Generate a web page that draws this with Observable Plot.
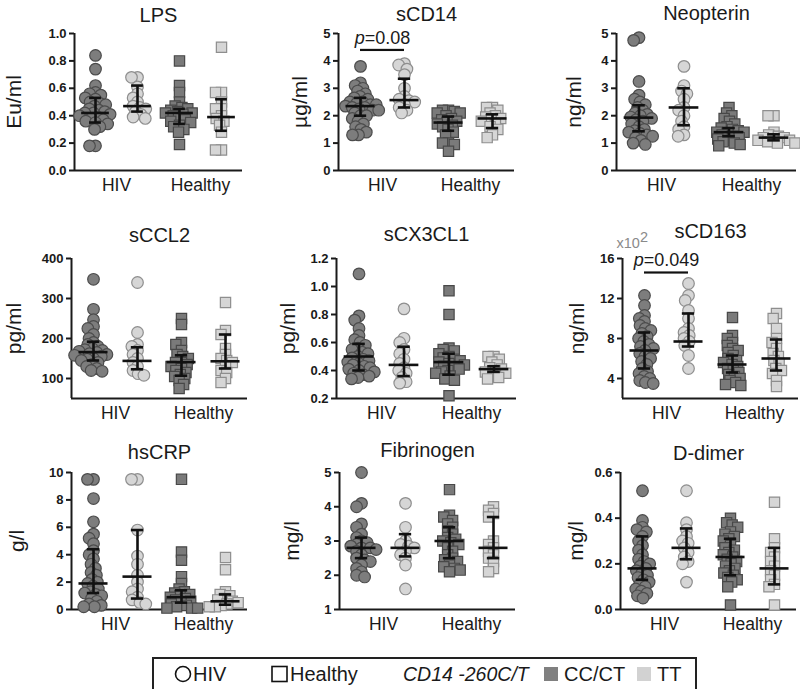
<!DOCTYPE html>
<html><head><meta charset="utf-8">
<script src="https://cdn.jsdelivr.net/npm/d3@7"></script>
<script src="https://cdn.jsdelivr.net/npm/@observablehq/plot@0.6"></script>
<style>
body{margin:0;background:#fff;font-family:"Liberation Sans",Arial,sans-serif;}
#root{position:relative;width:800px;height:689px;overflow:hidden;background:#fff;}
.panel{position:absolute;width:267px;}
.panel svg{display:block;}
</style></head>
<body><div id="root"></div>
<script>
// ---------- categories ----------
const groups = ["HIV CC/CT", "HIV TT", "Healthy CC/CT", "Healthy TT"];
const groupLabels = ["HIV", "Healthy"];
const legendGenotypes = ["CC/CT", "TT"];

// ---------- LPS ----------
const lpsHivCC = [0.84,0.74,0.62,0.57,0.56,0.55,0.53,0.52,0.50,0.49,0.48,0.47,0.45,0.44,0.43,0.42,0.42,0.41,0.40,0.39,0.38,0.37,0.36,0.35,0.34,0.32,0.30,0.18,0.18];
const lpsHivTT = [0.68,0.68,0.61,0.56,0.53,0.50,0.47,0.46,0.45,0.43,0.41,0.39,0.38];
const lpsHealthyCC = [0.80,0.62,0.57,0.50,0.47,0.46,0.45,0.44,0.43,0.42,0.42,0.41,0.40,0.38,0.37,0.36,0.35,0.33,0.32,0.30,0.28,0.19];
const lpsHealthyTT = [0.90,0.57,0.57,0.50,0.45,0.45,0.40,0.38,0.36,0.33,0.28,0.15,0.15];
const lpsMedian = [0.42,0.47,0.42,0.39], lpsQ1 = [0.35,0.43,0.34,0.29], lpsQ3 = [0.53,0.62,0.45,0.52];
const lpsTicks = [0,0.2,0.4,0.6,0.8,1.0];

// ---------- sCD14 ----------
const scd14HivCC = [3.8,3.2,3.1,3.0,2.9,2.8,2.7,2.65,2.6,2.5,2.5,2.45,2.4,2.4,2.35,2.3,2.3,2.25,2.2,2.2,2.1,2.0,2.0,1.9,1.8,1.7,1.6,1.5,1.4,1.3,1.3];
const scd14HivTT = [3.9,3.85,3.7,3.5,3.0,2.7,2.6,2.55,2.5,2.4,2.3,2.2,2.1];
const scd14HealthyCC = [2.2,2.2,2.15,2.1,2.1,2.0,1.9,1.85,1.8,1.75,1.7,1.65,1.6,1.5,1.4,1.3,1.0,1.0,0.95,0.7];
const scd14HealthyTT = [2.3,2.3,2.2,2.1,2.0,1.95,1.9,1.85,1.8,1.7,1.6,1.5,1.3,1.2];
const scd14Median = [2.35,2.57,1.75,1.9], scd14Q1 = [2.0,2.3,1.45,1.55], scd14Q3 = [2.65,3.35,1.97,2.05];
const scd14Ticks = [0,1,2,3,4,5];

// ---------- Neopterin ----------
const neoHivCC = [4.85,4.75,3.25,2.75,2.6,2.5,2.4,2.3,2.2,2.1,2.05,2.0,1.95,1.9,1.85,1.8,1.7,1.6,1.5,1.45,1.4,1.35,1.3,1.25,1.2,1.1,1.0,0.95];
const neoHivTT = [3.8,3.1,2.9,2.8,2.6,2.3,2.2,2.0,1.8,1.6,1.5,1.3,1.25];
const neoHealthyCC = [2.3,2.1,2.0,1.9,1.8,1.7,1.6,1.55,1.5,1.45,1.4,1.4,1.35,1.3,1.25,1.2,1.15,1.1,1.05,1.0,0.95,0.9];
const neoHealthyTT = [2.0,2.0,1.4,1.3,1.25,1.2,1.2,1.15,1.1,1.1,1.05,1.0,1.0];
const neoMedian = [1.93,2.3,1.4,1.2], neoQ1 = [1.43,1.65,1.25,1.1], neoQ3 = [2.38,3.0,1.55,1.32];
const neoTicks = [0,1,2,3,4,5];

// ---------- sCCL2 ----------
const ccl2HivCC = [348,273,247,230,225,210,200,190,185,180,175,172,170,168,165,162,160,158,155,150,148,145,140,135,130,125,120,118];
const ccl2HivTT = [340,215,185,180,170,160,150,140,130,120,112,108];
const ccl2HealthyCC = [250,235,190,185,170,160,155,150,145,140,140,135,130,125,120,115,110,105,100,95,85,75];
const ccl2HealthyTT = [290,220,210,175,160,150,145,140,130,120,115,100,90];
const ccl2Median = [166,144,141,143], ccl2Q1 = [145,123,107,125], ccl2Q3 = [192,178,158,210];
const ccl2Ticks = [100,200,300,400];

// ---------- sCX3CL1 ----------
const cx3HivCC = [1.09,0.79,0.76,0.70,0.65,0.62,0.60,0.58,0.56,0.55,0.53,0.52,0.50,0.49,0.48,0.47,0.46,0.45,0.44,0.43,0.42,0.41,0.40,0.39,0.38,0.37,0.36,0.35,0.34];
const cx3HivTT = [0.84,0.63,0.60,0.55,0.52,0.48,0.45,0.42,0.40,0.38,0.35,0.32,0.31];
const cx3HealthyCC = [0.97,0.80,0.56,0.55,0.54,0.52,0.50,0.49,0.48,0.47,0.46,0.45,0.44,0.43,0.42,0.41,0.40,0.39,0.38,0.36,0.34,0.33,0.22];
const cx3HealthyTT = [0.50,0.50,0.48,0.46,0.44,0.42,0.41,0.40,0.39,0.38,0.36,0.35,0.34];
const cx3Median = [0.50,0.44,0.46,0.41], cx3Q1 = [0.40,0.36,0.37,0.39], cx3Q3 = [0.59,0.57,0.52,0.43];
const cx3Ticks = [0.2,0.4,0.6,0.8,1.0,1.2];

// ---------- sCD163 (x10^2) ----------
const cd163HivCC = [12.3,11.3,10.3,10.0,9.7,9.3,9.0,8.8,8.5,8.2,8.0,7.7,7.4,7.2,7.0,6.8,6.5,6.2,6.0,5.7,5.4,5.0,4.7,4.5,4.2,4.0,3.8,3.6,3.5];
const cd163HivTT = [13.5,12.3,11.8,10.8,10.0,9.0,8.6,8.3,8.0,7.7,7.3,6.3,5.0];
const cd163HealthyCC = [10.1,8.3,8.0,7.6,7.3,7.0,6.8,6.6,6.3,6.0,5.8,5.6,5.4,5.2,5.0,4.8,4.6,4.4,4.2,4.0,3.8,3.6,3.4,3.3];
const cd163HealthyTT = [10.5,10.0,9.0,8.0,7.6,7.0,6.5,6.2,5.8,5.5,5.0,4.8,4.5,3.8,3.2];
const cd163Median = [6.8,7.7,5.4,6.0], cd163Q1 = [5.0,7.2,4.6,4.8], cd163Q3 = [8.6,10.5,6.3,7.9];
const cd163Ticks = [4,8,12,16];

// ---------- hsCRP ----------
const crpHivCC = [9.5,9.5,8.1,6.4,5.5,5.2,4.8,4.3,4.0,3.7,3.3,3.0,2.7,2.5,2.2,2.0,1.9,1.7,1.5,1.3,1.2,1.1,1.0,0.8,0.6,0.4,0.3,0.2,0.2];
const crpHivTT = [9.5,9.5,5.8,3.9,3.3,2.5,2.0,1.5,1.3,0.9,0.7,0.5,0.4];
const crpHealthyCC = [9.5,4.2,3.6,2.4,1.9,1.5,1.3,1.2,1.1,1.0,0.9,0.8,0.7,0.6,0.5,0.4,0.3,0.2,0.1,0.1,0.1];
const crpHealthyTT = [3.8,2.9,1.3,1.1,1.0,0.8,0.7,0.6,0.5,0.4,0.3,0.2,0.2];
const crpMedian = [1.9,2.4,0.9,0.6], crpQ1 = [1.2,0.8,0.5,0.35], crpQ3 = [4.4,5.8,1.4,1.1];
const crpTicks = [0,2,4,6,8,10];

// ---------- Fibrinogen ----------
const fibHivCC = [5.0,4.1,4.0,3.5,3.4,3.2,3.1,3.0,2.95,2.9,2.85,2.8,2.8,2.75,2.7,2.6,2.5,2.45,2.4,2.3,2.2,2.1,2.0,1.95];
const fibHivTT = [4.1,3.4,3.0,2.9,2.85,2.8,2.7,2.6,2.5,2.3,1.6];
const fibHealthyCC = [4.5,3.75,3.7,3.6,3.5,3.4,3.3,3.2,3.1,3.05,3.0,2.95,2.9,2.8,2.7,2.6,2.5,2.45,2.4,2.3,2.25,2.2,2.15,2.1];
const fibHealthyTT = [4.0,3.9,3.8,3.7,3.0,2.9,2.8,2.7,2.6,2.5,2.4,2.2,2.1];
const fibMedian = [2.8,2.8,3.0,2.8], fibQ1 = [2.5,2.55,2.5,2.5], fibQ3 = [3.1,3.2,3.4,3.7];
const fibTicks = [1,2,3,4,5];

// ---------- D-dimer ----------
const ddHivCC = [0.52,0.39,0.36,0.35,0.34,0.32,0.30,0.28,0.26,0.24,0.22,0.21,0.20,0.19,0.18,0.17,0.16,0.15,0.14,0.13,0.12,0.11,0.10,0.09,0.08,0.07,0.06,0.05];
const ddHivTT = [0.52,0.38,0.35,0.32,0.30,0.29,0.27,0.25,0.23,0.21,0.20,0.12];
const ddHealthyCC = [0.40,0.38,0.37,0.36,0.34,0.33,0.32,0.31,0.30,0.28,0.27,0.26,0.25,0.24,0.23,0.22,0.21,0.20,0.19,0.18,0.17,0.16,0.15,0.14,0.13,0.12,0.10,0.02];
const ddHealthyTT = [0.47,0.31,0.27,0.25,0.23,0.21,0.19,0.17,0.15,0.13,0.11,0.10,0.02];
const ddMedian = [0.18,0.27,0.23,0.18], ddQ1 = [0.13,0.22,0.15,0.11], ddQ3 = [0.32,0.355,0.31,0.27];
const ddTicks = [0,0.2,0.4,0.6];

// ---------- annotations ----------
const sigLabels = ["p=0.08", "p=0.049"];
const sigLevels = [4.4, 14.6];
const cd163Multiplier = "x10^2";

// ---------- styles / layout ----------
const groupStyles = [
  {symbol: "circle", fill: "#7d7d7d", stroke: "#4c4c4c"},
  {symbol: "circle", fill: "#d6d6d6", stroke: "#8e8e8e"},
  {symbol: "square", fill: "#7a7a7a", stroke: "#484848"},
  {symbol: "square", fill: "#d6d6d6", stroke: "#8e8e8e"}
];
const rowsLayout = [
  {top: 0, height: 200, mt: 33, mb: 30},
  {top: 215, height: 215, mt: 43, mb: 32},
  {top: 440, height: 200, mt: 32, mb: 31}
];
const colLeft = [0, 266, 533];
const f1 = d3.format(".1f"), f0 = d3.format("d");

const panels = [
  {title:"LPS", unit:"Eu/ml", data:[lpsHivCC,lpsHivTT,lpsHealthyCC,lpsHealthyTT], med:lpsMedian, q1:lpsQ1, q3:lpsQ3, domain:[0,1], ticks:lpsTicks, fmt:f1, row:0, col:0, ml:72, mr:24, labelDx:-60, titleDy:-18},
  {title:"sCD14", unit:"µg/ml", data:[scd14HivCC,scd14HivTT,scd14HealthyCC,scd14HealthyTT], med:scd14Median, q1:scd14Q1, q3:scd14Q3, domain:[0,5], ticks:scd14Ticks, fmt:f0, row:0, col:1, ml:71, mr:18, labelDx:-38, titleDy:-19, sig:0},
  {title:"Neopterin", unit:"ng/ml", data:[neoHivCC,neoHivTT,neoHealthyCC,neoHealthyTT], med:neoMedian, q1:neoQ1, q3:neoQ3, domain:[0,5], ticks:neoTicks, fmt:f0, row:0, col:2, ml:83, mr:4, labelDx:-42, titleDy:-20},
  {title:"sCCL2", unit:"pg/ml", data:[ccl2HivCC,ccl2HivTT,ccl2HealthyCC,ccl2HealthyTT], med:ccl2Median, q1:ccl2Q1, q3:ccl2Q3, domain:[50,400], ticks:ccl2Ticks, fmt:f0, row:1, col:0, ml:70, mr:19, labelDx:-57, titleDy:-23},
  {title:"sCX3CL1", unit:"pg/ml", data:[cx3HivCC,cx3HivTT,cx3HealthyCC,cx3HealthyTT], med:cx3Median, q1:cx3Q1, q3:cx3Q3, domain:[0.2,1.2], ticks:cx3Ticks, fmt:f1, row:1, col:1, ml:69, mr:17, labelDx:-48, titleDy:-24},
  {title:"sCD163", unit:"ng/ml", data:[cd163HivCC,cd163HivTT,cd163HealthyCC,cd163HealthyTT], med:cd163Median, q1:cd163Q1, q3:cd163Q3, domain:[2,16], ticks:cd163Ticks, fmt:f0, row:1, col:2, ml:89, mr:2, labelDx:-45, titleDy:-27, sig:1, mult:cd163Multiplier},
  {title:"hsCRP", unit:"g/l", data:[crpHivCC,crpHivTT,crpHealthyCC,crpHealthyTT], med:crpMedian, q1:crpQ1, q3:crpQ3, domain:[0,10], ticks:crpTicks, fmt:f0, row:2, col:0, ml:70, mr:20, labelDx:-54, titleDy:-20},
  {title:"Fibrinogen", unit:"mg/l", data:[fibHivCC,fibHivTT,fibHealthyCC,fibHealthyTT], med:fibMedian, q1:fibQ1, q3:fibQ3, domain:[1,5], ticks:fibTicks, fmt:f0, row:2, col:1, ml:73, mr:18, labelDx:-47, titleDy:-22},
  {title:"D-dimer", unit:"mg/l", data:[ddHivCC,ddHivTT,ddHealthyCC,ddHealthyTT], med:ddMedian, q1:ddQ1, q3:ddQ3, domain:[0,0.6], ticks:ddTicks, fmt:f1, row:2, col:2, ml:85, mr:3, labelDx:-44, titleDy:-19}
];

const INK = "#1a1a1a";
const MED_HALF = 0.33, CAP_HALF = 0.14;

function makePanel(p) {
  const R = rowsLayout[p.row];
  const stats = groups.map((g, i) => ({g, med: p.med[i], q1: p.q1[i], q3: p.q3[i]}));
  const marks = [
    Plot.ruleY([p.domain[0]], {stroke: INK, strokeWidth: 2}),
    Plot.ruleX([0], {fx: () => groups[0], stroke: INK, strokeWidth: 2}),
    Plot.axisY({ticks: p.ticks, tickFormat: p.fmt, tickSize: 5, tickPadding: 3, strokeWidth: 2, fontSize: 13, fontWeight: "bold", label: null})
  ];
  groups.forEach((g, gi) => {
    const s = groupStyles[gi];
    marks.push(Plot.dot(p.data[gi].map(v => ({g, v})),
      Plot.dodgeX({anchor: "middle", padding: -5.6},
        {y: "v", fx: "g", r: 5.8, symbol: s.symbol, fill: s.fill, stroke: s.stroke, strokeWidth: 1.2})));
  });
  marks.push(
    Plot.ruleX(stats, {fx: "g", x: () => 0.5, y1: "q1", y2: "q3", stroke: "#111", strokeWidth: 2.6}),
    Plot.ruleY(stats, {fx: "g", y: "med", x1: () => 0.5 - MED_HALF, x2: () => 0.5 + MED_HALF, stroke: "#111", strokeWidth: 2.6}),
    Plot.ruleY(stats, {fx: "g", y: "q1", x1: () => 0.5 - CAP_HALF, x2: () => 0.5 + CAP_HALF, stroke: "#111", strokeWidth: 2.6}),
    Plot.ruleY(stats, {fx: "g", y: "q3", x1: () => 0.5 - CAP_HALF, x2: () => 0.5 + CAP_HALF, stroke: "#111", strokeWidth: 2.6}),
    Plot.text([p.title], {fx: () => groups[2], frameAnchor: "top-left", textAnchor: "middle", dy: p.titleDy, lineAnchor: "middle", fontSize: 20, fill: INK}),
    Plot.text(groupLabels, {fx: (d, i) => groups[i * 2 + 1], frameAnchor: "bottom-left", textAnchor: "middle", dy: 15, lineAnchor: "middle", fontSize: 17.5, fill: INK}),
    Plot.text([p.unit], {fx: () => groups[0], frameAnchor: "left", textAnchor: "middle", lineAnchor: "middle", rotate: -90, dx: p.labelDx, fontSize: 21, fill: INK})
  );
  if (p.sig !== undefined) {
    const lvl = sigLevels[p.sig];
    marks.push(
      Plot.ruleY([{g: groups[0], a: 0.5, b: 1}, {g: groups[1], a: 0, b: 0.5}], {fx: "g", y: () => lvl, x1: "a", x2: "b", stroke: "#111", strokeWidth: 2.2}),
      Plot.text([sigLabels[p.sig]], {fx: () => groups[1], x: () => 0, y: () => lvl, dy: -12, textAnchor: "middle", lineAnchor: "middle", fontSize: 18, fill: INK})
    );
  }
  if (p.mult) {
    marks.push(Plot.text([p.mult], {fx: () => groups[0], frameAnchor: "top-left", dx: -6, dy: -15, textAnchor: "start", lineAnchor: "middle", fontSize: 14.5, fill: "#8a8a8a"}));
  }
  const svg = Plot.plot({
    width: 267, height: R.height,
    marginLeft: p.ml, marginRight: p.mr, marginTop: R.mt, marginBottom: R.mb,
    style: {fontFamily: "'Liberation Sans', Arial, sans-serif", color: INK, background: "transparent", overflow: "visible"},
    fx: {domain: groups, padding: 0, axis: null, label: null},
    x: {domain: [0, 1], axis: null},
    y: {domain: p.domain},
    marks
  });
  // italic "p" and superscript exponent
  svg.querySelectorAll("text").forEach(t => {
    if (t.childElementCount) return;
    const s = t.textContent;
    const NS = "http://www.w3.org/2000/svg";
    if (sigLabels.includes(s)) {
      t.textContent = "";
      const a = document.createElementNS(NS, "tspan"); a.setAttribute("font-style", "italic"); a.textContent = "p";
      t.appendChild(a); t.appendChild(document.createTextNode(s.slice(1)));
    } else if (s === cd163Multiplier) {
      const [base, exp] = s.split("^");
      t.textContent = base;
      const e = document.createElementNS(NS, "tspan"); e.setAttribute("dy", "-6"); e.textContent = exp;
      t.appendChild(e);
    }
  });
  const div = document.createElement("div");
  div.className = "panel";
  div.style.left = colLeft[p.col] + "px";
  div.style.top = R.top + "px";
  div.appendChild(svg);
  document.getElementById("root").appendChild(div);
}
panels.forEach(makePanel);

// ---------- legend ----------
const lg = d3.select("#root").append("svg")
  .attr("width", 800).attr("height", 40)
  .style("position", "absolute").style("left", "0px").style("top", "650px")
  .style("font-family", "'Liberation Sans', Arial, sans-serif");
lg.append("rect").attr("x", 153).attr("y", 8).attr("width", 543).attr("height", 40)
  .attr("fill", "none").attr("stroke", "#222").attr("stroke-width", 2);
lg.append("circle").attr("cx", 183).attr("cy", 24).attr("r", 7.5).attr("fill", "none").attr("stroke", "#111").attr("stroke-width", 1.6);
lg.append("text").attr("x", 193).attr("y", 24).attr("dominant-baseline", "central").attr("font-size", 20).attr("fill", INK).text(groupLabels[0]);
lg.append("rect").attr("x", 272).attr("y", 16.5).attr("width", 15).attr("height", 15).attr("fill", "none").attr("stroke", "#111").attr("stroke-width", 1.6);
lg.append("text").attr("x", 290).attr("y", 24).attr("dominant-baseline", "central").attr("font-size", 20).attr("fill", INK).text(groupLabels[1]);
lg.append("text").attr("x", 403).attr("y", 24).attr("dominant-baseline", "central").attr("font-size", 19.5).attr("font-style", "italic").attr("fill", INK).text("CD14 -260C/T");
lg.append("rect").attr("x", 544).attr("y", 17).attr("width", 14).attr("height", 14).attr("fill", "#808080");
lg.append("text").attr("x", 564).attr("y", 24).attr("dominant-baseline", "central").attr("font-size", 20).attr("fill", INK).text(legendGenotypes[0]);
lg.append("rect").attr("x", 637).attr("y", 17).attr("width", 14).attr("height", 14).attr("fill", "#d2d2d2");
lg.append("text").attr("x", 657).attr("y", 24).attr("dominant-baseline", "central").attr("font-size", 20).attr("fill", INK).text(legendGenotypes[1]);
</script>
</body></html>
